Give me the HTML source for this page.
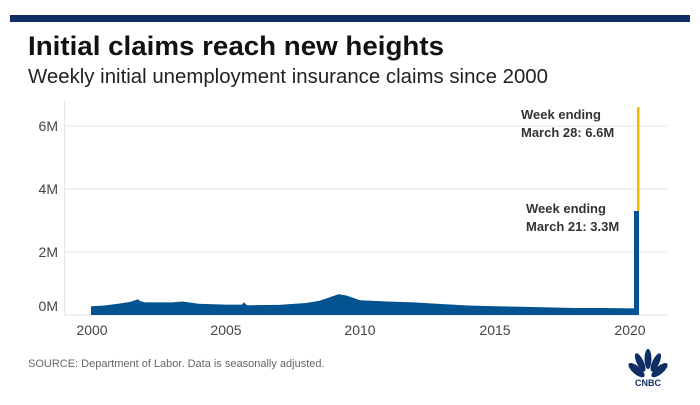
<!DOCTYPE html>
<html><head><style>
body{margin:0;background:#fff;width:700px;height:400px;overflow:hidden;font-family:"Liberation Sans",sans-serif;}
</style></head><body>
<svg width="700" height="400" xmlns="http://www.w3.org/2000/svg" font-family="Liberation Sans, sans-serif">
<rect x="10" y="15" width="680" height="7" fill="#0f2e63"/>
<text x="28" y="55" font-size="27" font-weight="bold" fill="#111" textLength="416" lengthAdjust="spacingAndGlyphs">Initial claims reach new heights</text>
<text x="28" y="83" font-size="20" fill="#222" textLength="520" lengthAdjust="spacingAndGlyphs">Weekly initial unemployment insurance claims since 2000</text>
<g stroke="#e6e6e6" stroke-width="1">
<line x1="64" y1="126" x2="667" y2="126"/>
<line x1="64" y1="189" x2="667" y2="189"/>
<line x1="64" y1="252" x2="667" y2="252"/>
<line x1="64" y1="315" x2="667" y2="315"/>
<line x1="64.5" y1="100" x2="64.5" y2="315"/>
</g>
<g font-size="14" fill="#444" text-anchor="end">
<text x="58" y="131">6M</text><text x="58" y="194">4M</text><text x="58" y="257">2M</text><text x="58" y="311">0M</text>
</g>
<g font-size="14" fill="#444" text-anchor="middle">
<text x="92" y="335">2000</text><text x="226" y="335">2005</text><text x="360" y="335">2010</text><text x="495" y="335">2015</text><text x="630" y="335">2020</text>
</g>
<polygon fill="#02538f" points="91,315 91,306.2 104.5,305.5 118,303.7 131,301.8 138,299.3 140,301 145,302.4 158,302.4 172,302.4 182.5,301.5 198.5,303.7 225.5,304.6 242,304.6 244,302.4 247,305.2 252.5,305.2 279,304.9 306,303 319.6,300.8 338.5,294.2 346.5,295.5 360,300.2 387,301.5 414,302.4 441,304 468,305.5 494.5,306.2 521,306.8 548,307.4 575,308 602,308 634,308.4 634,211 639,211 639,315"/>
<rect x="637" y="107" width="2.5" height="104" fill="#f5b800"/>
<g font-size="13" font-weight="bold" fill="#333">
<text x="521" y="119">Week ending</text><text x="521" y="137">March 28: 6.6M</text>
<text x="526" y="213">Week ending</text><text x="526" y="231">March 21: 3.3M</text>
</g>
<text x="28" y="367" font-size="11" fill="#666">SOURCE: Department of Labor. Data is seasonally adjusted.</text>
<g fill="#0f2e63">
<ellipse cx="642" cy="362" rx="4" ry="10" transform="rotate(-50 648 372)"/>
<ellipse cx="645" cy="360" rx="3.5" ry="10" transform="rotate(-25 648 372)"/>
<ellipse cx="648" cy="359" rx="3.5" ry="10"/>
<ellipse cx="651" cy="360" rx="3.5" ry="10" transform="rotate(25 648 372)"/>
<ellipse cx="654" cy="362" rx="4" ry="10" transform="rotate(50 648 372)"/>
<text x="648" y="386" font-size="9" font-weight="bold" text-anchor="middle">CNBC</text>
</g>
</svg>
</body></html>
